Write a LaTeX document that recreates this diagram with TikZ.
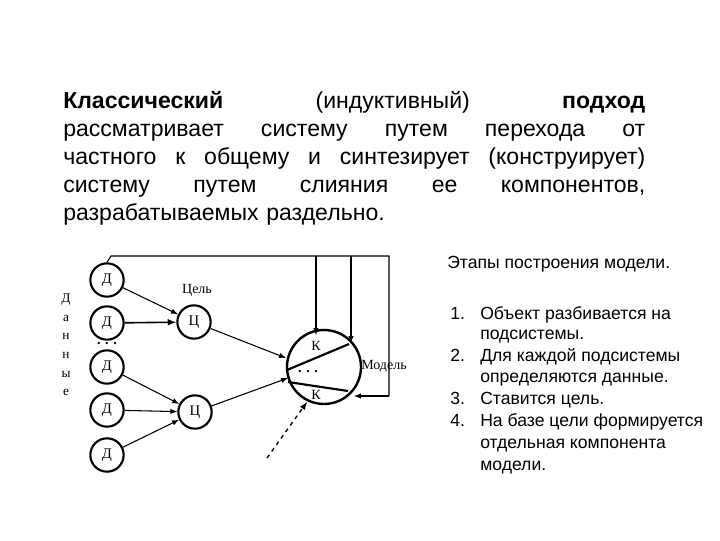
\documentclass[tikz,border=0pt]{standalone}
\usepackage{fontspec}
\setmainfont{Liberation Sans}
\newfontfamily\serifru{Liberation Serif}
\begin{document}
\begin{tikzpicture}[x=0.75pt,y=-0.75pt,
  circ/.style={circle,draw,line width=1.6pt,minimum size=25,inner sep=0,font=\serifru\fontsize{11}{12}\selectfont},
  arr/.style={-latex,line width=0.8pt},
  hl/.style={anchor=base west,text width=436.5pt,inner sep=0,font=\fontsize{17.3}{19}\selectfont},
  rt/.style={anchor=base west,inner sep=0,font=\fontsize{13.2}{14}\selectfont},
  lbl/.style={inner sep=0,font=\serifru\fontsize{10.5}{12}\selectfont}]
\useasboundingbox (0,0) rectangle (720,540);
% heading
\node[hl] (h1) at (63,108) {\textbf{Классический}\hfill(индуктивный)\hfill\textbf{подход}};
\node[hl] (h2) at (63,136) {рассматривает\hfill систему\hfill путем\hfill перехода\hfill от};
\node[hl] (h3) at (63,164) {частного\hfill к\hfill общему\hfill и\hfill синтезирует\hfill (конструирует)};
\node[hl] (h4) at (63,192) {систему\hfill путем\hfill слияния\hfill ее\hfill компонентов,};
\node[hl] (h5) at (63,220) {разрабатываемых раздельно.\hfill\null};
% right text
\node[rt] (t0) at (447,268) {Этапы построения модели.};
\node[rt] (n1) at (450,319) {1.}; \node[rt] (l1) at (480,319) {Объект разбивается на};
\node[rt] (l1b) at (480,339) {подсистемы.};
\node[rt] (n2) at (450,361) {2.}; \node[rt] (l2) at (480,361) {Для каждой подсистемы};
\node[rt] (l2b) at (480,382) {определяются данные.};
\node[rt] (n3) at (450,404) {3.}; \node[rt] (l3) at (480,404) {Ставится цель.};
\node[rt] (n4) at (450,426) {4.}; \node[rt] (l4) at (480,426) {На базе цели формируется};
\node[rt] (l4b) at (480,448) {отдельная компонента};
\node[rt] (l4c) at (480,470) {модели.};
% diagram
\node[circ] (d1) at (107,280) {Д};
\node[circ] (d2) at (107,323) {Д};
\node[circ] (d3) at (107,367) {Д};
\node[circ] (d4) at (107,410) {Д};
\node[circ] (d5) at (107,455) {Д};
\node[circ] (c1) at (194,322) {Ц};
\node[circ] (c2) at (195,412) {Ц};
\node[circle,draw,line width=1.8pt,minimum size=55.5pt,inner sep=0] (m) at (324,367) {};
\node[lbl] (dots1) at (107,344) {\textbf{. . .}};
\node[lbl] (dots2) at (308,372) {\textbf{. . .}};
\node[lbl] (k1) at (316,346) {К};
\node[lbl] (k2) at (316,395) {К};
\node[lbl,anchor=west] (ml) at (361,366) {Модель};
\node[lbl] (goal) at (197,290) {Цель};
\node[lbl,align=center,font=\serifru\fontsize{10}{14}\selectfont] (data) at (66,345) {Д\\а\\н\\н\\ы\\е};
\coordinate (a1) at (287,370); \coordinate (a2) at (349,344);
\coordinate (b1) at (288,382); \coordinate (b2) at (348,391);
\draw[line width=1.6pt] (a1) -- (a2);
\draw[line width=1.6pt] (b1) -- (b2);
\draw[arr] (d1) -- (c1);
\draw[arr,line width=1.2pt] (d2) -- (c1);
\draw[arr] (d3) -- (c2);
\draw[arr] (d4) -- (c2);
\draw[arr] (d5) -- (c2);
\draw[arr] (c1) -- (286,358);
\draw[arr] (c2) -- (288,378);
\coordinate (s) at (267,458); \coordinate (e) at (307,402);
\draw[arr,dashed,line width=1pt] (s) -- (e);
\coordinate (f0) at (111,256); \coordinate (f1) at (389,256); \coordinate (f2) at (389,396);
\coordinate (f3) at (354,396);
\draw[line width=0.8pt] (d1.north) -- (f0) -- (f1) -- (f2);
\draw[arr] (f2) -- (f3);
\coordinate (v1) at (316,256); \coordinate (v1e) at (316,335);
\coordinate (v2) at (351,256); \coordinate (v2e) at (351,343);
\draw[arr] (v1) -- (v1e);
\draw[arr] (v2) -- (v2e);
\end{tikzpicture}
\end{document}
